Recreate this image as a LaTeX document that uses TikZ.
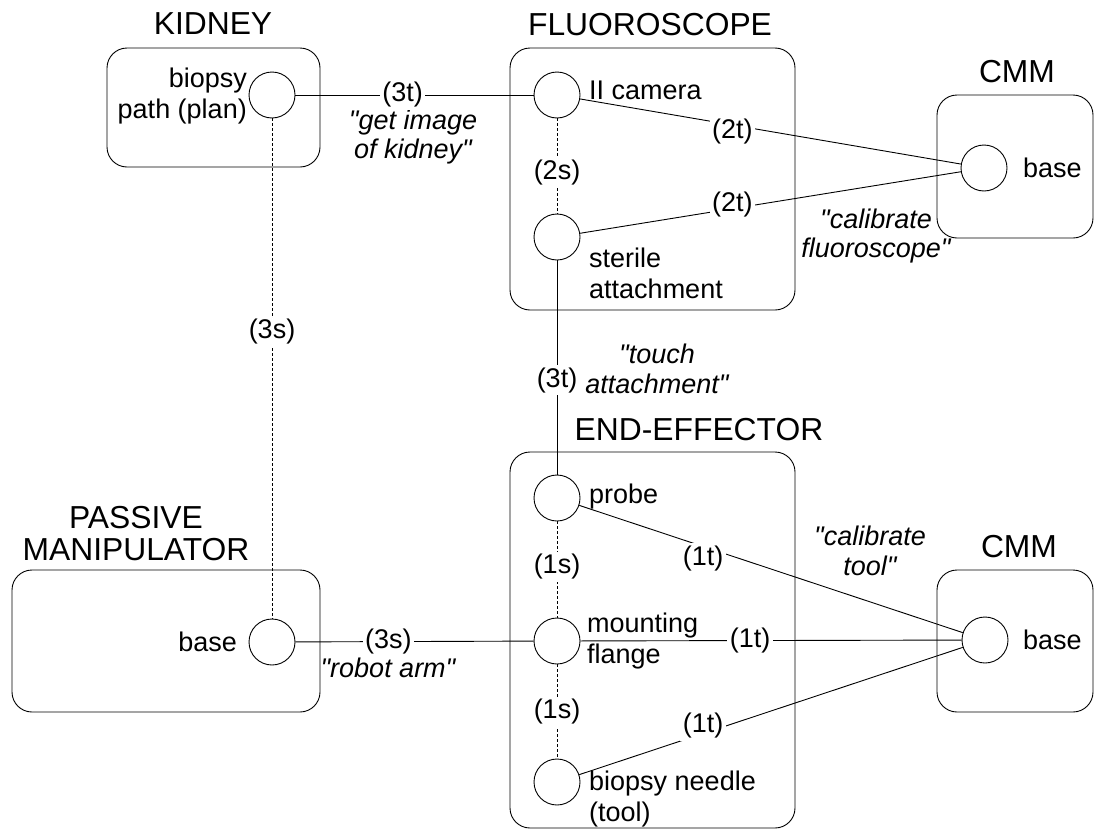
\documentclass[tikz,border=0pt]{standalone}
\usepackage{fontspec}
\setmainfont{Liberation Sans}[Ligatures=TeXOff]
\begin{document}
\begin{tikzpicture}[x=1pt,y=-1pt,
  grp/.style={draw, rounded corners=20pt, line width=0.9pt, inner sep=0pt},
  frm/.style={draw, circle, minimum size=46pt, inner sep=0pt, line width=0.9pt},
  ttl/.style={font=\fontsize{31.8}{32}\selectfont, align=center, inner sep=0pt},
  txt/.style={font=\fontsize{27}{31}\selectfont, inner sep=0pt},
  quot/.style={font=\fontsize{27}{29.5}\selectfont\itshape, align=center, inner sep=0pt},
  lbl/.style={font=\fontsize{27}{30}\selectfont, fill=white, inner sep=2.5pt},
  link/.style={line width=0.9pt},
  dlink/.style={line width=0.8pt, dash pattern=on 3pt off 2pt},
]
\useasboundingbox (0,0) rectangle (1095,830);

% group boxes
\node[grp, minimum width=213pt, minimum height=119pt] (kidneybox) at (213.5,107.5) {};
\node[grp, minimum width=285pt, minimum height=262pt] (fluorobox) at (652.5,179) {};
\node[grp, minimum width=156pt, minimum height=143pt] (cmmtopbox) at (1015,166.5) {};
\node[grp, minimum width=308pt, minimum height=142pt] (passivebox) at (166,641) {};
\node[grp, minimum width=285pt, minimum height=376pt] (eebox) at (652.5,640) {};
\node[grp, minimum width=156pt, minimum height=142pt] (cmmbotbox) at (1015,641) {};

% titles
\node[ttl] (tkidney) at (213,24) {KIDNEY};
\node[ttl] (tfluoro) at (650,25) {FLUOROSCOPE};
\node[ttl] (tcmmtop) at (1017,72) {CMM};
\node[ttl] (tee) at (699,430) {END-EFFECTOR};
\node[ttl] (tpassive) at (136,534) {PASSIVE\\MANIPULATOR};
\node[ttl] (tcmmbot) at (1019,547) {CMM};

% frames
\node[frm] (path) at (272,95) {};
\node[frm] (cam) at (557,95) {};
\node[frm] (att) at (557,237) {};
\node[frm] (cmmtop) at (984,168) {};
\node[frm] (pbase) at (272,642) {};
\node[frm] (probe) at (557,498) {};
\node[frm] (flange) at (557,641) {};
\node[frm] (needle) at (557,782) {};
\node[frm] (cmmbot) at (985,640) {};

% frame names
\node[txt, anchor=east, align=right] (npath) at (247,96) {biopsy\\path (plan)};
\node[txt, anchor=west] (ncam) at (589,90) {II camera};
\node[txt, anchor=west, align=left] (natt) at (589,273) {sterile\\attachment};
\node[txt, anchor=west] (ncmmtop) at (1023,168) {base};
\node[txt, anchor=east] (npbase) at (237,642) {base};
\node[txt, anchor=west] (nprobe) at (589,497) {probe};
\node[txt, anchor=west, align=left] (nflange) at (587,641) {mounting\\flange};
\node[txt, anchor=west, align=left] (nneedle) at (589,799) {biopsy needle\\(tool)};
\node[txt, anchor=west] (ncmmbot) at (1023,640) {base};

% transformation descriptions
\node[quot] (qimage) at (413,137) {"get image\\of kidney"};
\node[quot] (qfluoro) at (876,236) {"calibrate\\fluoroscope"};
\node[quot] (qtouch) at (657,369) {"touch\\attachment"};
\node[quot] (qarm) at (388,668) {"robot arm"};
\node[quot] (qtool) at (870,551) {"calibrate\\tool"};

% dashed links
\draw[dlink] (path) -- node[lbl, pos=0.427] {(3s)} (pbase);
\draw[dlink] (cam) -- node[lbl, pos=0.57] {(2s)} (att);
\draw[dlink] (probe) -- node[lbl, pos=0.47] {(1s)} (flange);
\draw[dlink] (flange) -- node[lbl, pos=0.505] {(1s)} (needle);

% solid links
\draw[link] (path) -- node[lbl, pos=0.45] {(3t)} (cam);
\draw[link] (cam) -- node[lbl, pos=0.40, yshift=-7pt] {(2t)} (cmmtop);
\draw[link] (att) -- node[lbl, pos=0.40, yshift=4pt] {(2t)} (cmmtop);
\draw[link] (att) -- node[lbl, pos=0.56] {(3t)} (probe);
\draw[link] (pbase) -- node[lbl, pos=0.39] {(3s)} (flange);
\draw[link] (probe) -- node[lbl, pos=0.323, yshift=-12pt] {(1t)} (cmmbot);
\draw[link] (flange) -- node[lbl, pos=0.445] {(1t)} (cmmbot);
\draw[link] (needle) -- node[lbl, pos=0.323, yshift=8pt] {(1t)} (cmmbot);
\end{tikzpicture}
\end{document}
